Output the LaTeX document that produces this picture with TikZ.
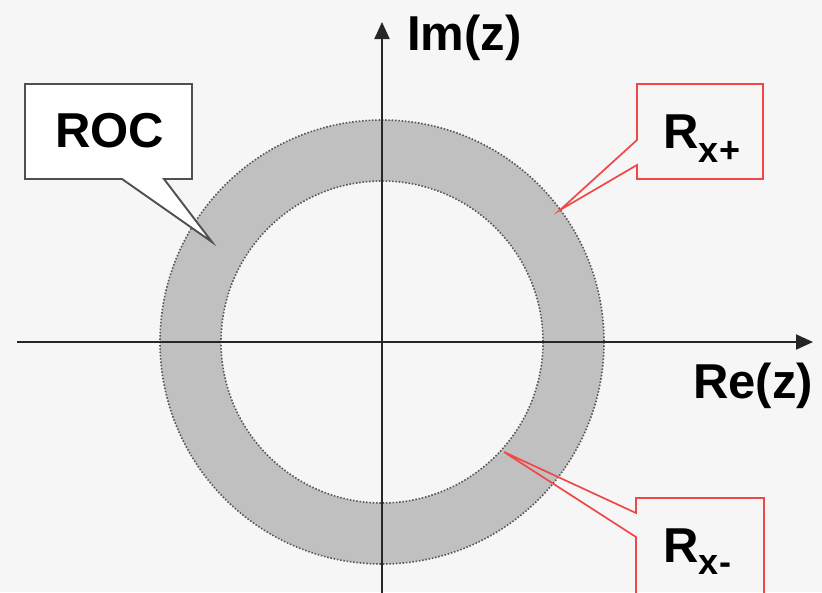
\documentclass[tikz,border=0pt]{standalone}
\usepackage{fontspec}
\setmainfont{Liberation Sans}
\usetikzlibrary{arrows.meta}
\definecolor{bgcol}{HTML}{F6F6F6}
\definecolor{ringcol}{HTML}{C0C0C0}
\definecolor{rimcol}{HTML}{555555}
\definecolor{calloutred}{HTML}{F04848}
\definecolor{calloutgray}{HTML}{505050}
\tikzset{
  axisline/.style={line width=2pt, black!85, -{Triangle[length=17pt,width=15pt]}},
  rim/.style={rimcol, line width=1.6pt, dash pattern=on 1.5pt off 1.8pt},
  bigtext/.style={font=\bfseries\fontsize{49}{58}\selectfont, inner sep=0pt},
  subtext/.style={font=\bfseries\fontsize{36}{42}\selectfont, inner sep=0pt},
  roccallout/.style={fill=white, draw=calloutgray, line width=1.9pt, line join=miter},
  redcallout/.style={draw=calloutred, line width=1.7pt, line join=miter}
}
\begin{document}
\begin{tikzpicture}[x=1pt, y=-1pt]
  % page and background
  \fill[bgcol] (0,0) rectangle (822,592);
  \useasboundingbox (0,0) rectangle (822,592);
  \clip (0,0) rectangle (822,592);

  % origin and axis end points
  \coordinate (O) at (382,342);
  \coordinate (xstart) at (17,342);
  \coordinate (xend) at (813,342);
  \coordinate (ystart) at (382,600);
  \coordinate (yend) at (382,22);

  % region of convergence: the annulus between the two radii
  \fill[ringcol, even odd rule] (O) circle[radius=222] (O) circle[radius=161];
  \draw[rim] (O) circle[radius=222];
  \draw[rim] (O) circle[radius=161];

  % axes
  \draw[axisline] (xstart) -- (xend);
  \draw[axisline] (ystart) -- (yend);

  % axis labels
  \node[bigtext, anchor=base west] (im) at (407,50) {Im(z)};
  \node[bigtext, anchor=base west] (re) at (693,398) {Re(z)};

  % ROC callout
  \draw[roccallout] (25,84) -- (192,84) -- (192,179) -- (164,179)
        -- (212,242) -- (122,179) -- (25,179) -- cycle;
  \node[bigtext, anchor=base west] (roc) at (55,147) {ROC};

  % outer radius callout
  \draw[redcallout] (637,140) -- (637,84) -- (763,84) -- (763,179)
        -- (637,179) -- (637,165) -- (560,210) -- cycle;
  \node[bigtext, anchor=base west] (rplus) at (663,148) {R};
  \node[subtext, anchor=base west] (rplussub) at (rplus.base east) [yshift=-14pt] {x+};

  % inner radius callout
  \draw[redcallout] (636,600) -- (636,537) -- (504,452) -- (636,513)
        -- (636,498) -- (764,498) -- (764,600);
  \node[bigtext, anchor=base west] (rminus) at (663,562) {R};
  \node[subtext, anchor=base west] (rminussub) at (rminus.base east) [yshift=-12pt] {x-};
\end{tikzpicture}
\end{document}
